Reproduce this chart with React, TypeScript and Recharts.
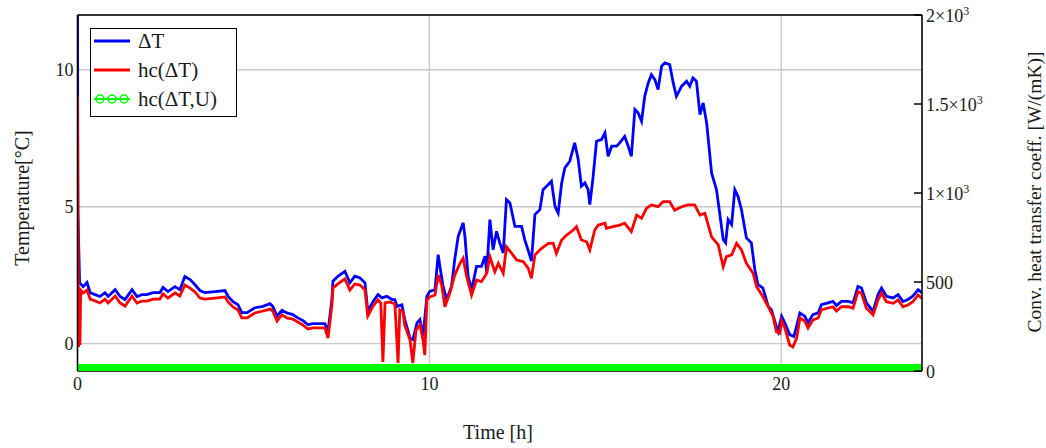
import React from 'react';
import { LineChart, Line, XAxis, YAxis, CartesianGrid, Legend, ReferenceLine, Label } from 'recharts';

// ΔT [°C] : [time h, value]
const deltaTSeries: [number, number][] = [
  [0,13.3],[0.01,4.9],[0.06,2.23],[0.16,2.08],[0.27,2.23],[0.36,1.86],[0.5,1.79],[0.64,1.72],[0.78,1.86],[0.87,1.72],[1.07,1.97],[1.21,1.72],[1.35,1.61],[1.55,1.97],[1.69,1.72],[1.83,1.79],[1.97,1.79],[2.15,1.86],[2.34,1.86],[2.43,2.05],[2.57,1.9],[2.77,2.08],[2.91,1.97],[3.05,2.45],[3.2,2.34],[3.34,2.15],[3.48,1.94],[3.62,1.86],[3.91,1.9],[4.19,1.94],[4.28,1.72],[4.42,1.53],[4.56,1.42],[4.67,1.13],[4.82,1.13],[5.04,1.31],[5.27,1.36],[5.47,1.46],[5.55,1.36],[5.67,1.0],[5.81,1.22],[5.95,1.12],[6.12,1.06],[6.26,0.94],[6.41,0.84],[6.55,0.69],[6.69,0.73],[6.89,0.73],[7.03,0.73],[7.12,0.45],[7.23,1.61],[7.26,2.28],[7.4,2.46],[7.6,2.64],[7.74,2.22],[7.88,2.46],[8.03,2.4],[8.17,2.22],[8.25,1.18],[8.4,1.54],[8.54,1.79],[8.65,1.67],[8.79,1.73],[8.94,1.61],[9.02,1.61],[9.08,1.36],[9.22,1.42],[9.3,0.88],[9.45,0.21],[9.53,0.15],[9.65,0.76],[9.73,0.88],[9.82,0.27],[9.93,1.73],[10.01,1.91],[10.16,1.97],[10.25,3.25],[10.3,2.82],[10.39,2.09],[10.49,1.61],[10.63,2.09],[10.72,3.07],[10.82,3.92],[10.96,4.41],[11.01,3.92],[11.1,2.46],[11.2,1.97],[11.34,2.82],[11.48,2.82],[11.58,3.19],[11.63,2.58],[11.72,4.53],[11.81,3.43],[11.91,4.1],[12.0,3.68],[12.1,3.31],[12.19,5.26],[12.29,5.14],[12.43,4.28],[12.62,4.28],[12.71,3.8],[12.86,3.19],[12.9,3.01],[13.0,4.71],[13.14,4.89],[13.23,5.62],[13.38,5.81],[13.47,5.93],[13.57,5.01],[13.66,4.77],[13.76,5.87],[13.85,6.42],[13.99,6.66],[14.13,7.33],[14.23,6.72],[14.32,5.75],[14.42,5.87],[14.51,5.62],[14.56,5.08],[14.65,6.05],[14.75,7.39],[14.89,7.45],[14.99,7.7],[15.08,6.84],[15.18,7.21],[15.32,7.21],[15.41,7.33],[15.55,7.57],[15.65,7.21],[15.74,6.84],[15.84,8.55],[15.93,8.43],[16.03,8.12],[16.12,9.03],[16.22,9.52],[16.31,9.82],[16.41,9.64],[16.5,9.28],[16.6,10.13],[16.69,10.25],[16.83,10.19],[16.93,9.52],[17.02,9.03],[17.17,9.4],[17.31,9.58],[17.4,9.4],[17.49,9.7],[17.59,9.58],[17.69,8.36],[17.78,8.79],[17.88,8.06],[18.02,6.23],[18.16,5.62],[18.25,4.77],[18.35,3.8],[18.42,3.68],[18.49,4.53],[18.59,4.35],[18.68,5.62],[18.77,5.38],[18.87,4.89],[19.01,3.86],[19.15,3.68],[19.25,2.7],[19.34,2.15],[19.48,2.03],[19.63,1.36],[19.72,1.24],[19.86,0.63],[19.91,0.45],[20.01,1.0],[20.1,0.76],[20.24,0.33],[20.36,0.26],[20.53,1.12],[20.67,1.0],[20.76,0.76],[20.9,1.06],[21.05,1.12],[21.14,1.42],[21.33,1.49],[21.47,1.54],[21.57,1.39],[21.71,1.54],[21.9,1.54],[22.04,1.49],[22.18,2.09],[22.28,2.03],[22.42,1.49],[22.61,1.18],[22.75,1.79],[22.85,2.03],[22.99,1.73],[23.18,1.67],[23.32,1.79],[23.46,1.54],[23.6,1.61],[23.74,1.73],[23.89,1.97],[24.0,1.85],
];

// hc(ΔT) [W/(mK)] : [time h, value]
const hcDeltaTSeries: [number, number][] = [
  [0,1539],[0.03,135],[0.05,399],[0.07,146],[0.09,455],[0.16,438],[0.27,455],[0.36,404],[0.5,393],[0.64,382],[0.78,404],[0.87,382],[1.07,421],[1.21,382],[1.35,365],[1.55,421],[1.69,382],[1.83,393],[1.97,393],[2.15,404],[2.34,404],[2.43,433],[2.57,410],[2.77,438],[2.91,421],[3.05,483],[3.2,466],[3.34,444],[3.48,410],[3.62,404],[3.91,410],[4.19,416],[4.28,388],[4.42,360],[4.56,343],[4.67,298],[4.82,298],[5.04,326],[5.27,337],[5.47,348],[5.55,337],[5.67,281],[5.81,315],[5.95,298],[6.12,292],[6.26,275],[6.41,258],[6.55,236],[6.69,242],[6.89,242],[7.03,242],[7.12,185],[7.23,371],[7.26,466],[7.4,489],[7.6,517],[7.74,455],[7.88,489],[8.03,483],[8.17,455],[8.25,309],[8.4,365],[8.54,399],[8.62,382],[8.68,51],[8.74,382],[8.88,388],[9.02,376],[9.11,45],[9.16,343],[9.25,331],[9.3,258],[9.45,174],[9.53,45],[9.62,230],[9.73,258],[9.82,174],[9.87,90],[9.93,399],[10.01,416],[10.16,427],[10.25,539],[10.35,483],[10.44,361],[10.58,437],[10.72,539],[10.87,605],[10.96,633],[11.06,530],[11.2,427],[11.34,511],[11.48,502],[11.63,549],[11.72,642],[11.86,558],[11.96,605],[12.1,549],[12.19,698],[12.34,661],[12.48,624],[12.67,614],[12.81,577],[12.9,521],[13.0,652],[13.19,689],[13.38,717],[13.52,717],[13.61,661],[13.76,736],[13.9,764],[14.09,792],[14.18,811],[14.32,736],[14.47,726],[14.56,680],[14.7,792],[14.8,820],[14.99,830],[15.03,802],[15.22,811],[15.41,820],[15.55,830],[15.74,783],[15.89,876],[16.03,858],[16.17,914],[16.31,933],[16.5,923],[16.64,951],[16.83,951],[16.97,904],[17.17,923],[17.35,933],[17.54,933],[17.69,876],[17.83,886],[18.02,754],[18.21,708],[18.35,586],[18.44,642],[18.59,652],[18.73,717],[18.87,680],[19.01,605],[19.2,549],[19.3,474],[19.48,417],[19.63,361],[19.77,305],[19.86,221],[19.96,212],[20.01,281],[20.1,242],[20.24,146],[20.33,135],[20.44,185],[20.53,298],[20.67,281],[20.76,242],[20.9,287],[21.05,298],[21.14,343],[21.33,354],[21.47,361],[21.57,337],[21.71,361],[21.9,361],[22.04,352],[22.18,446],[22.28,437],[22.42,352],[22.61,315],[22.75,399],[22.85,437],[22.99,389],[23.18,380],[23.32,399],[23.46,361],[23.6,371],[23.74,389],[23.89,427],[24.0,408],
];

// hc(ΔT,U) [W/(mK)] : [time h, value]
const hcDeltaTUSeries: [number, number][] = [
  [0,20],[6,20],[12,20],[18,20],[24,20],
];

const seriesNames = ['ΔT', 'hc(ΔT)', 'hc(ΔT,U)'];
const seriesColors = ['#0000ff', '#ff0000', '#00ff00'];
const xTicks = [0, 10, 20];
const leftTicks = [0, 5, 10];
const rightTicks = [0, 500, 1000, 1500, 2000];
const rightTickBase = ['0', '500', '1×10', '1.5×10', '2×10'];
const rightTickExp = ['', '', '3', '3', '3'];
const xTitle = 'Time [h]';
const leftTitle = 'Temperature[°C]';
const rightTitle = 'Conv. heat transfer coeff. [W/(mK)]';

const FONT = "'Liberation Serif', 'Times New Roman', serif";
const TXT = '#1a1a1a';

const toRows = (s: [number, number][]) => s.map(([t, v]) => ({ t, v }));

const RightTick = (props: any) => {
  const { x, y, payload } = props;
  const i = rightTicks.indexOf(payload.value);
  return (
    <g>
      <line x1={x - 12} x2={x - 4} y1={y} y2={y} stroke="#000" strokeWidth={1.5} />
      <text x={x} y={y} dy="0.38em" fontFamily={FONT} fontSize={18} fill={TXT} textAnchor="start">
        {rightTickBase[i]}
        {rightTickExp[i] ? <tspan dy="-0.55em" fontSize={12}>{rightTickExp[i]}</tspan> : null}
      </text>
    </g>
  );
};

const LegendBox = () => (
  <div style={{ width: 147, height: 89, border: '1.5px solid #000', background: '#fff', boxSizing: 'border-box', position: 'relative', fontFamily: FONT, fontSize: 21, color: TXT }}>
    {seriesNames.map((name, i) => (
      <div key={name} style={{ position: 'absolute', left: 2, top: 12 + i * 29 - 12, height: 24, display: 'flex', alignItems: 'center', whiteSpace: 'nowrap' }}>
        <svg width={40} height={14} style={{ marginRight: 5 }}>
          <line x1={1} x2={37} y1={7} y2={7} stroke={seriesColors[i]} strokeWidth={i === 2 ? 2 : 3} />
          {i === 2 ? [7, 19, 31].map((cx) => <circle key={cx} cx={cx} cy={7} r={4} fill="none" stroke={seriesColors[i]} strokeWidth={1.5} />) : null}
        </svg>
        <span>{name}</span>
      </div>
    ))}
  </div>
);

export default function App() {
  return (
    <div style={{ position: 'absolute', left: 0, top: 0, background: '#fff' }}>
      <LineChart width={1046} height={448} margin={{ top: 15, right: 0, left: 0, bottom: 0 }}>
        <CartesianGrid yAxisId="left" stroke="#c8c8c8" strokeWidth={1.4} />
        <XAxis
          dataKey="t"
          type="number"
          domain={[0, 24]}
          ticks={xTicks}
          allowDataOverflow
          height={77}
          axisLine={false}
          tickLine={false}
          tickSize={0}
          tickMargin={6}
          tick={{ fontFamily: FONT, fontSize: 18, fill: TXT }}
        >
          <Label content={() => (
            <text x={498} y={432} dy="0.35em" textAnchor="middle" fontFamily={FONT} fontSize={20} fill={TXT}>{xTitle}</text>
          )} />
        </XAxis>
        <YAxis
          yAxisId="left"
          type="number"
          domain={[-1, 12]}
          ticks={leftTicks}
          allowDataOverflow
          width={77.5}
          axisLine={{ stroke: '#000', strokeWidth: 1.5 }}
          tickLine={false}
          tickSize={0}
          tickMargin={4}
          tick={{ fontFamily: FONT, fontSize: 18, fill: TXT }}
        >
          <Label content={() => (
            <text x={22} y={198} dy="0.35em" textAnchor="middle" fontFamily={FONT} fontSize={20} fill={TXT} transform="rotate(-90 22 198)">{leftTitle}</text>
          )} />
        </YAxis>
        <YAxis
          yAxisId="right"
          orientation="right"
          type="number"
          domain={[0, 2000]}
          ticks={rightTicks}
          allowDataOverflow
          width={124}
          axisLine={{ stroke: '#000', strokeWidth: 1.5 }}
          tickLine={false}
          tickSize={0}
          tickMargin={4}
          tick={<RightTick />}
        >
          <Label content={() => (
            <text x={1034} y={192} dy="0.35em" textAnchor="middle" fontFamily={FONT} fontSize={19.5} fill={TXT} transform="rotate(-90 1034 192)">{rightTitle}</text>
          )} />
        </YAxis>
        <ReferenceLine yAxisId="left" y={12} stroke="#000" strokeWidth={1.5} />
        <ReferenceLine yAxisId="left" y={-1} stroke="#000" strokeWidth={1.5} />
        <Line
          yAxisId="right"
          data={toRows(hcDeltaTUSeries)}
          dataKey="v"
          name={seriesNames[2]}
          stroke={seriesColors[2]}
          strokeWidth={7}
          dot={false}
          activeDot={false}
          isAnimationActive={false}
        />
        <Line
          yAxisId="left"
          data={toRows(deltaTSeries)}
          dataKey="v"
          name={seriesNames[0]}
          stroke={seriesColors[0]}
          strokeWidth={2.8}
          dot={false}
          activeDot={false}
          isAnimationActive={false}
        />
        <Line
          yAxisId="right"
          data={toRows(hcDeltaTSeries)}
          dataKey="v"
          name={seriesNames[1]}
          stroke={seriesColors[1]}
          strokeWidth={2.8}
          dot={false}
          activeDot={false}
          isAnimationActive={false}
        />
        <Legend
          layout="horizontal"
          verticalAlign="middle"
          align="center"
          content={() => <LegendBox />}
          wrapperStyle={{ left: 90, top: 28, width: 147, height: 89 }}
        />
      </LineChart>
    </div>
  );
}
